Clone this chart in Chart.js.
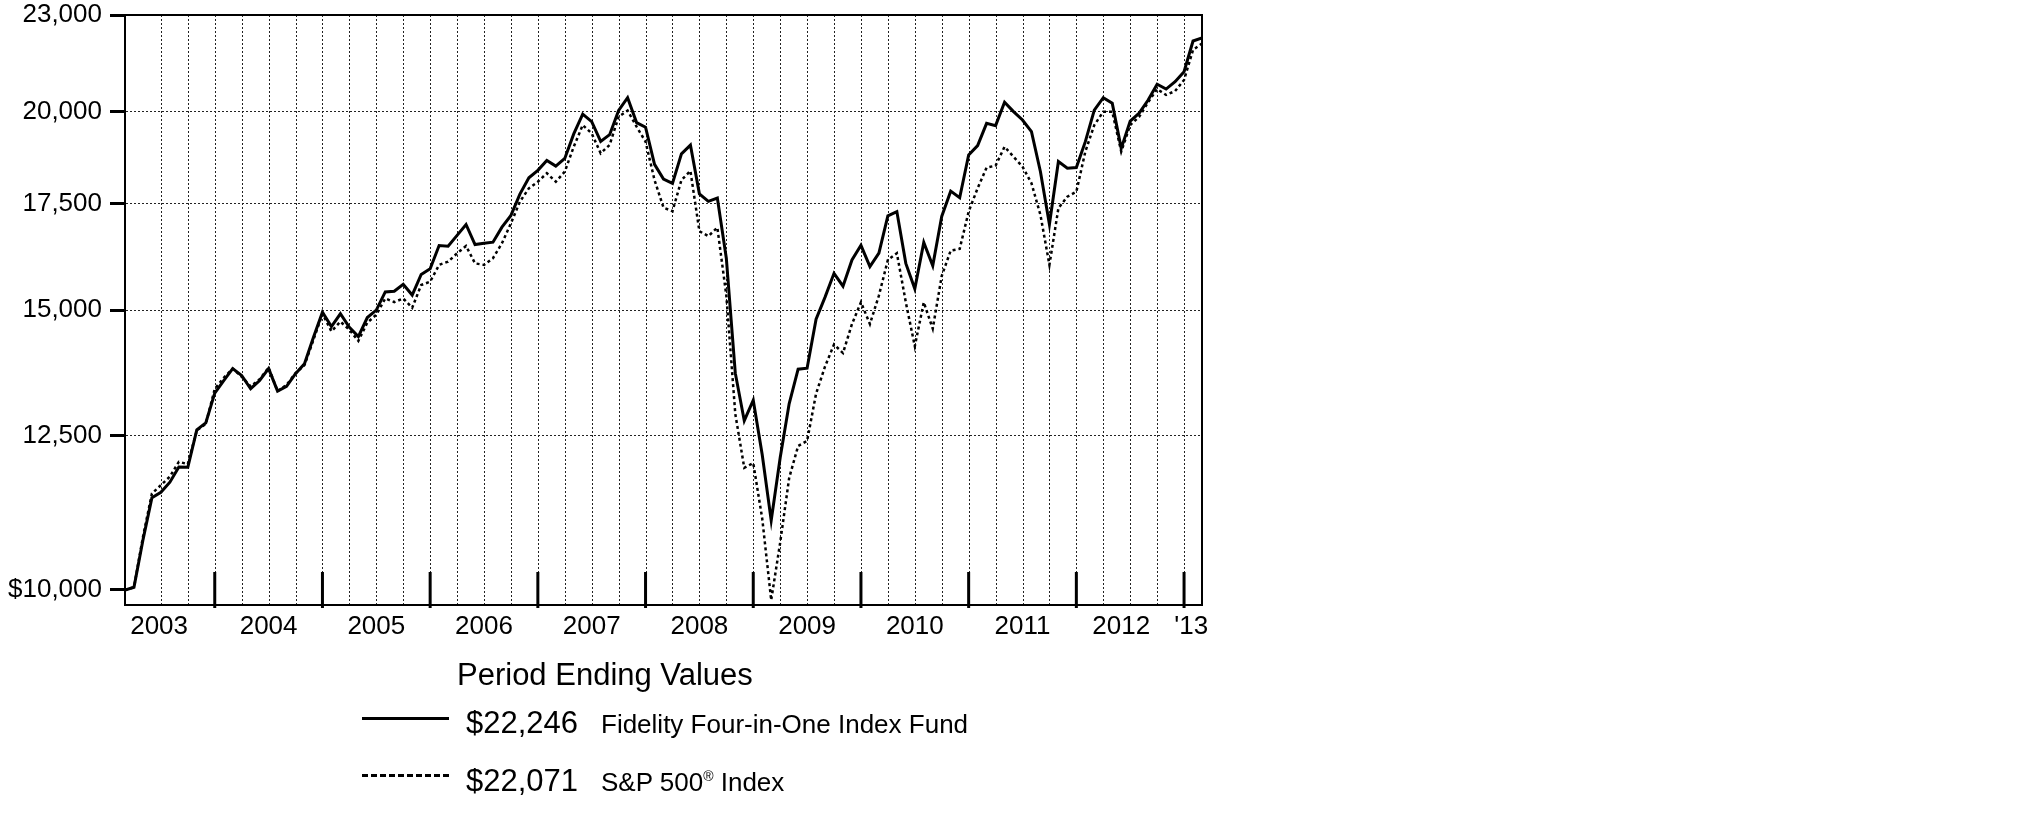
<!DOCTYPE html>
<html>
<head>
<meta charset="utf-8">
<script src="https://cdn.jsdelivr.net/npm/chart.js@4.4.1/dist/chart.umd.min.js"></script>
<style>
  html, body { margin: 0; padding: 0; background: #fff; }
  #wrap { position: relative; width: 2025px; height: 828px; font-family: "Liberation Sans", Arial, sans-serif; color: #000; }
  #chart { position: absolute; left: 0; top: 0; }
  .txt { position: absolute; white-space: nowrap; line-height: 1; }
  .big { font-size: 31px; }
  .name { font-size: 26px; }
  .name sup { font-size: 14px; vertical-align: 10px; }
  .swatch { position: absolute; left: 362px; width: 87px; height: 0; }
</style>
</head>
<body>
<div id="wrap">
  <canvas id="chart" width="2025" height="828"></canvas>

  <div class="txt big" style="left:457px; top:659px;">Period Ending Values</div>

  <div class="swatch" style="top:717px; border-top:3px solid #000;"></div>
  <div class="txt big" id="end0" style="left:466px; top:707px;"></div>
  <div class="txt name" id="name0" style="left:601px; top:711px;"></div>

  <div class="swatch" style="top:774px; border-top:3px dashed #000;"></div>
  <div class="txt big" id="end1" style="left:466px; top:765px;"></div>
  <div class="txt name" style="left:601px; top:769px;">S&amp;P 500<sup>®</sup> Index</div>
</div>

<script>
// month-end values of $10,000 invested, Feb 2003 .. Feb 2013
const fundValues = [
  10000, 10040, 10750, 11430, 11520, 11690, 11950, 11945, 12610, 12740,
  13300, 13545, 13780, 13645, 13385, 13545, 13780, 13340, 13430, 13680,
  13880, 14420, 14955, 14645, 14920, 14630, 14435, 14840, 15000, 15400,
  15415, 15570, 15330, 15795, 15925, 16470, 16455, 16715, 16980, 16495,
  16525, 16550, 16915, 17205, 17745, 18170, 18365, 18630, 18480, 18685,
  19360, 19925, 19710, 19150, 19340, 20030, 20405, 19680, 19550, 18525,
  18135, 18020, 18810, 19050, 17750, 17560, 17645, 16170, 13690, 12780,
  13165, 12165, 11060, 12110, 13095, 13770, 13790, 14805, 15285, 15820,
  15530, 16130, 16475, 15975, 16290, 17195, 17300, 16050, 15470, 16545,
  15995, 17180, 17820, 17650, 18780, 19035, 19660, 19595, 20270, 19995,
  19755, 19425, 18330, 16985, 18600, 18420, 18440, 19145, 20040, 20405,
  20240, 18960, 19725, 19950, 20335, 20805, 20660, 20880, 21185, 22150,
  22246
];

const spValues = [
  10000, 10040, 10800, 11500, 11640, 11785, 12040, 12000, 12600, 12720,
  13380, 13600, 13780, 13620, 13430, 13570, 13800, 13340, 13460, 13690,
  13850, 14370, 14920, 14545, 14750, 14580, 14345, 14730, 14900, 15255,
  15175, 15255, 15050, 15555, 15630, 16015, 16090, 16285, 16460, 16050,
  16015, 16170, 16525, 17010, 17550, 17895, 18065, 18290, 18065, 18330,
  19005, 19610, 19375, 18825, 19055, 19850, 20025, 19565, 19145, 18110,
  17400, 17310, 18110, 18350, 16815, 16695, 16905, 15320, 12905, 11935,
  12020, 11090, 9855, 10710, 11760, 12320, 12410, 13290, 13825, 14270,
  14095, 14700, 15170, 14700, 15320, 16130, 16290, 15170, 14235, 15170,
  14600, 15760, 16350, 16390, 17300, 17895, 18440, 18490, 19005, 18730,
  18465, 18025, 17215, 16015, 17385, 17680, 17805, 18870, 19610, 19995,
  19995, 18870, 19610, 19850, 20270, 20660, 20485, 20600, 20935, 21865,
  22071
];

const seriesNames = ['Fidelity Four-in-One Index Fund', 'S&P 500® Index'];
const endingValues = ['$22,246', '$22,071'];

const yearLabels = ['2003', '2004', '2005', '2006', '2007', '2008', '2009', '2010', '2011', '2012', "'13"];
const yearLabelAt = [3.8, 16, 28, 40, 52, 64, 76, 88, 100, 111, 118.8]; // month index of each label

const yTicks = [10000, 12500, 15000, 17500, 20000, 23000];
const yTickLabels = ['$10,000', '12,500', '15,000', '17,500', '20,000', '23,000'];

// month index 0 = Feb 2003
const monthNames = ['Jan', 'Feb', 'Mar', 'Apr', 'May', 'Jun', 'Jul', 'Aug', 'Sep', 'Oct', 'Nov', 'Dec'];
const months = fundValues.map((v, i) => monthNames[(i + 1) % 12] + ' ' + (2003 + Math.floor((i + 1) / 12)));

document.getElementById('end0').textContent = endingValues[0];
document.getElementById('name0').textContent = seriesNames[0];
document.getElementById('end1').textContent = endingValues[1];

const FONT = '"Liberation Sans", Arial, sans-serif';

// dotted quarter lines, thick year ticks and the closed plot box
const framePlugin = {
  id: 'frame',
  beforeDatasetsDraw(chart) {
    const {ctx, chartArea: a, scales: {x}} = chart;
    ctx.save();
    ctx.strokeStyle = '#222';
    ctx.lineWidth = 1;
    ctx.setLineDash([2, 2]);
    for (let m = 4; m < months.length - 1; m += 3) {
      const px = Math.round(x.getPixelForValue(m)) + 0.5;
      ctx.beginPath();
      ctx.moveTo(px, a.top);
      ctx.lineTo(px, a.bottom);
      ctx.stroke();
    }
    ctx.restore();
  },
  afterDraw(chart) {
    const {ctx, chartArea: a, scales: {x}} = chart;
    ctx.save();
    ctx.strokeStyle = '#000';
    ctx.lineWidth = 2;
    ctx.strokeRect(a.left, a.top, a.right - a.left, a.bottom - a.top);
    ctx.lineWidth = 3;
    for (let m = 10; m < months.length; m += 12) {
      const px = x.getPixelForValue(m);
      ctx.beginPath();
      ctx.moveTo(px, a.bottom - 33);
      ctx.lineTo(px, a.bottom + 3);
      ctx.stroke();
    }
    ctx.restore();
  }
};

new Chart(document.getElementById('chart'), {
  type: 'line',
  data: {
    labels: months,
    datasets: [{
      label: seriesNames[0],
      data: fundValues.map((v, i) => ({x: i, y: v})),
      borderColor: '#000',
      borderWidth: 3,
      pointRadius: 0,
      tension: 0
    }, {
      label: seriesNames[1],
      data: spValues.map((v, i) => ({x: i, y: v})),
      borderColor: '#000',
      borderWidth: 2.5,
      borderDash: [3, 3],
      pointRadius: 0,
      tension: 0
    }]
  },
  options: {
    responsive: false,
    animation: false,
    devicePixelRatio: 1,
    layout: { padding: { left: 0, top: 15, right: 823, bottom: 0 } },
    plugins: { legend: { display: false }, tooltip: { enabled: false } },
    scales: {
      x: {
        type: 'linear',
        min: 0,
        max: months.length - 1,
        afterBuildTicks: (s) => { s.ticks = yearLabelAt.map(v => ({value: v})); },
        afterFit: (s) => { s.height = 223; },
        grid: { display: false, drawTicks: false },
        border: { display: true, color: '#000', width: 2 },
        ticks: {
          autoSkip: false,
          maxRotation: 0,
          padding: 9,
          color: '#000',
          font: { family: FONT, size: 26, lineHeight: 1 },
          callback: (v, i) => yearLabels[i]
        }
      },
      y: {
        type: 'logarithmic',
        min: 9785,
        max: 23000,
        afterBuildTicks: (s) => { s.ticks = yTicks.map(v => ({value: v})); },
        afterFit: (s) => { s.width = 125; },
        grid: {
          color: (c) => (c.tick && (c.tick.value === 10000 || c.tick.value === 23000)) ? 'rgba(0,0,0,0)' : '#222',
          lineWidth: 1,
          drawTicks: true,
          tickLength: 15,
          tickWidth: 3,
          tickColor: '#000',
          tickBorderDash: []
        },
        border: { display: true, color: '#000', width: 2, dash: [2, 2] },
        ticks: {
          padding: 8,
          color: '#000',
          font: { family: FONT, size: 26, lineHeight: 0.4 },
          callback: (v, i) => yTickLabels[i]
        }
      }
    }
  },
  plugins: [framePlugin]
});
</script>
</body>
</html>
